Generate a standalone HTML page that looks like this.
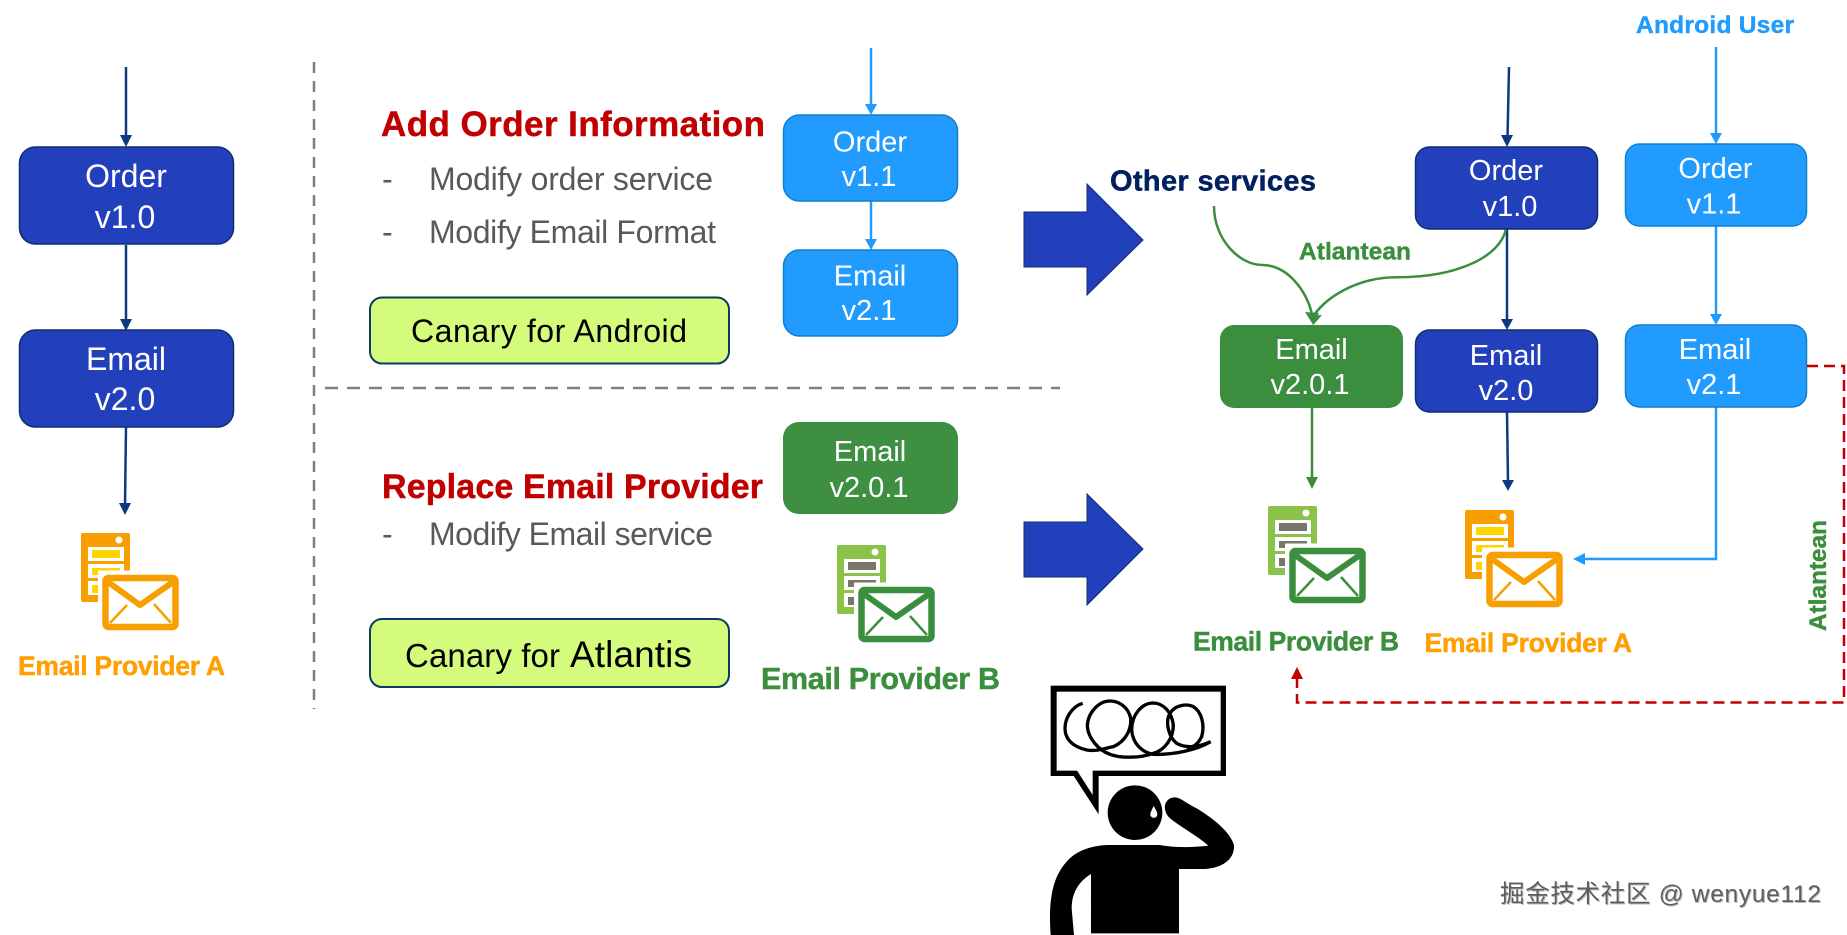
<!DOCTYPE html>
<html><head><meta charset="utf-8"><style>
html,body{margin:0;padding:0;background:#fff}
svg{display:block}
text{font-family:"Liberation Sans","Noto Sans CJK SC",sans-serif}
.w{fill:#fff;font-size:29px;text-anchor:middle}
.b{font-weight:bold;stroke-width:.45px}
.g{fill:#595959;font-size:32px}
</style></head><body>
<svg width="1847" height="935" viewBox="0 0 1847 935" xmlns="http://www.w3.org/2000/svg">
<rect width="1847" height="935" fill="#fff"/>
<defs>
<g id="sa">
<rect x="0" y="0" width="49" height="69" rx="2" fill="#F79F00"/>
<circle cx="38" cy="7" r="3.5" fill="#fff"/>
<rect x="7" y="14" width="36" height="14" fill="#fff"/><rect x="11" y="17" width="28" height="8" fill="#FFD400"/>
<rect x="7" y="31" width="36" height="14" fill="#fff"/><rect x="11" y="35" width="28" height="7" fill="#FFD400"/>
<rect x="7" y="48" width="36" height="14" fill="#fff"/><rect x="11" y="52" width="9" height="8" fill="#FFD400"/>
<rect x="17" y="37.5" width="40" height="40" fill="#fff"/>
<rect x="24.5" y="45" width="70" height="49" rx="3" fill="#fff" stroke="#F79F00" stroke-width="6.5"/>
<polyline points="27,49 59,72 92,49" fill="none" stroke="#F79F00" stroke-width="6" stroke-linejoin="round"/>
<path d="M29,90 L46,72 M90,90 L73,71" stroke="#F79F00" stroke-width="2.5" fill="none"/>
</g>
<g id="sb">
<rect x="0" y="0" width="49" height="69" rx="2" fill="#8BC34A"/>
<circle cx="38" cy="7" r="3.5" fill="#fff"/>
<rect x="7" y="14" width="36" height="14" fill="#fff"/><rect x="11" y="17" width="28" height="8" fill="#77776A"/>
<rect x="7" y="31" width="36" height="14" fill="#fff"/><rect x="11" y="35" width="28" height="7" fill="#77776A"/>
<rect x="7" y="48" width="36" height="14" fill="#fff"/><rect x="11" y="52" width="9" height="8" fill="#77776A"/>
<rect x="17" y="37.5" width="40" height="40" fill="#fff"/>
<rect x="24.5" y="45" width="70" height="49" rx="3" fill="#fff" stroke="#3B8E3E" stroke-width="6.5"/>
<polyline points="27,49 59,72 92,49" fill="none" stroke="#3B8E3E" stroke-width="6" stroke-linejoin="round"/>
<path d="M29,90 L46,72 M90,90 L73,71" stroke="#3B8E3E" stroke-width="2.5" fill="none"/>
</g>
</defs>

<!-- dashed dividers -->
<line x1="314" y1="62" x2="314" y2="709" stroke="#7f7f7f" stroke-width="2.5" stroke-dasharray="11 8"/>
<line x1="325" y1="388" x2="1060" y2="388" stroke="#7f7f7f" stroke-width="2.5" stroke-dasharray="13 9"/>

<!-- left column -->
<g stroke="#0B3A7E" stroke-width="2.5" fill="none">
<line x1="126" y1="67" x2="126" y2="138"/><line x1="126" y1="245" x2="126" y2="322"/><line x1="126" y1="427" x2="125" y2="505"/>
</g>
<g fill="#0B3A7E"><polygon points="120,135 132,135 126,147"/><polygon points="120,319 132,319 126,331"/><polygon points="119,503 131,503 125,515"/></g>
<rect x="19.5" y="147" width="214" height="97" rx="16" fill="#2340BC" stroke="#0E2F6E" stroke-width="1.5"/>
<rect x="19.5" y="330" width="214" height="97" rx="16" fill="#2340BC" stroke="#0E2F6E" stroke-width="1.5"/>
<text class="w" style="font-size:32px" x="126" y="187">Order</text>
<text class="w" style="font-size:32px" x="125" y="228">v1.0</text>
<text class="w" style="font-size:32px" x="126" y="370">Email</text>
<text class="w" style="font-size:32px" x="125" y="410">v2.0</text>
<use href="#sa" x="81" y="533"/>
<text class="b" x="18" y="675" font-size="26.5" fill="#FF9F00" stroke="#FF9F00" textLength="207">Email Provider A</text>

<!-- middle text -->
<text class="b" x="381" y="136" font-size="35" fill="#C00000" stroke="#C00000" textLength="384">Add Order Information</text>
<text class="g" x="382" y="190">-</text>
<text class="g" x="429" y="190" textLength="284">Modify order service</text>
<text class="g" x="382" y="243">-</text>
<text class="g" x="429" y="243" textLength="287">Modify Email Format</text>
<rect x="370" y="297.5" width="359" height="66" rx="12" fill="#D5FB7C" stroke="#0D3B5E" stroke-width="2"/>
<text x="411" y="342" font-size="32" fill="#000" textLength="276">Canary for Android</text>

<text class="b" x="382" y="498" font-size="34" fill="#C00000" stroke="#C00000" textLength="381">Replace Email Provider</text>
<text class="g" x="382" y="545">-</text>
<text class="g" x="429" y="545" textLength="284">Modify Email service</text>
<rect x="370" y="619" width="359" height="68" rx="12" fill="#D5FB7C" stroke="#0D3B5E" stroke-width="2"/>
<text x="405" y="667" font-size="33" fill="#000" textLength="155">Canary for</text>
<text x="570" y="667" font-size="37" fill="#000" textLength="122">Atlantis</text>

<!-- middle boxes -->
<g stroke="#219CFE" stroke-width="2.5"><line x1="871" y1="48" x2="871" y2="106"/><line x1="871" y1="201" x2="871" y2="241"/></g>
<g fill="#219CFE"><polygon points="865,104 877,104 871,115"/><polygon points="865,239 877,239 871,250"/></g>
<rect x="783.5" y="115" width="174" height="86" rx="16" fill="#219CFE" stroke="#0F7FD0" stroke-width="1.5"/>
<rect x="783.5" y="250" width="174" height="86" rx="16" fill="#219CFE" stroke="#0F7FD0" stroke-width="1.5"/>
<text class="w" x="870" y="151.5">Order</text><text class="w" x="869" y="186">v1.1</text>
<text class="w" x="870" y="285.5">Email</text><text class="w" x="869" y="320">v2.1</text>
<rect x="783" y="422" width="175" height="92" rx="16" fill="#3F8F43"/>
<text class="w" x="870" y="461">Email</text><text class="w" x="869" y="497">v2.0.1</text>
<use href="#sb" x="837" y="545"/>
<text class="b" x="761" y="689" font-size="30.5" fill="#3B8E3E" stroke="#3B8E3E" textLength="239">Email Provider B</text>

<!-- big arrows -->
<polygon points="1024,212 1087,212 1087,184 1143,240 1087,295 1087,267 1024,267" fill="#2340BC" stroke="#0E2F6E" stroke-width="1"/>
<polygon points="1024,522 1087,522 1087,494 1143,549 1087,605 1087,577 1024,577" fill="#2340BC" stroke="#0E2F6E" stroke-width="1"/>

<!-- right part -->
<text class="b" x="1110" y="190.5" font-size="29" fill="#002060" stroke="#002060" textLength="206">Other services</text>
<text class="b" x="1636" y="33" font-size="24.5" fill="#219CFE" stroke="#219CFE" textLength="158">Android User</text>
<text class="b" x="1299" y="259.5" font-size="24.5" fill="#3B8E3E" stroke="#3B8E3E" textLength="112">Atlantean</text>

<g stroke="#0B3A7E" stroke-width="2.5" fill="none">
<line x1="1509" y1="67" x2="1507.5" y2="138"/><line x1="1507" y1="229" x2="1507" y2="322"/><line x1="1507" y1="412" x2="1508" y2="482"/>
</g>
<g fill="#0B3A7E"><polygon points="1501,135 1513,135 1507,147"/><polygon points="1501,319 1513,319 1507,330"/><polygon points="1502,480 1514,480 1508,491"/></g>

<g stroke="#3B8E3E" stroke-width="2.5" fill="none">
<path d="M1214,206 C1214,240 1240,265 1262,265 C1287,265 1307,290 1312.7,317"/>
<path d="M1506,229 C1500,257 1457,277.3 1397,277.3 C1357,277.3 1327,297 1314,315"/>
<line x1="1312" y1="408" x2="1312" y2="480"/>
</g>
<g fill="#3B8E3E"><polygon points="1305,312 1319,313 1313.3,325"/><polygon points="1308,316 1322,315 1313.3,325"/><polygon points="1306,477 1318,477 1312,489"/></g>

<g stroke="#219CFE" stroke-width="2.5" fill="none">
<line x1="1716" y1="47" x2="1716" y2="135"/><line x1="1716" y1="226" x2="1716" y2="316"/>
<polyline points="1716,407 1716,559 1582,559"/>
</g>
<g fill="#219CFE"><polygon points="1710,133 1722,133 1716,144"/><polygon points="1710,314 1722,314 1716,325"/><polygon points="1585,553 1585,565 1573,559"/></g>

<rect x="1415.5" y="147" width="182" height="82" rx="14" fill="#2340BC" stroke="#0E2F6E" stroke-width="1.5"/>
<rect x="1415.5" y="330" width="182" height="82" rx="14" fill="#2340BC" stroke="#0E2F6E" stroke-width="1.5"/>
<rect x="1625.5" y="144" width="181" height="82" rx="14" fill="#219CFE" stroke="#0F7FD0" stroke-width="1.5"/>
<rect x="1625.5" y="325" width="181" height="82" rx="14" fill="#219CFE" stroke="#0F7FD0" stroke-width="1.5"/>
<rect x="1220" y="325" width="183" height="83" rx="14" fill="#3B8E3E"/>
<text class="w" x="1506" y="180">Order</text><text class="w" x="1510" y="216">v1.0</text>
<text class="w" x="1506" y="365">Email</text><text class="w" x="1506" y="400">v2.0</text>
<text class="w" x="1715.5" y="178">Order</text><text class="w" x="1714" y="213.5">v1.1</text>
<text class="w" x="1715" y="359">Email</text><text class="w" x="1714" y="394">v2.1</text>
<text class="w" x="1311.5" y="359">Email</text><text class="w" x="1310" y="394">v2.0.1</text>

<use href="#sb" x="1268" y="506"/>
<use href="#sa" x="1465" y="510"/>
<text class="b" x="1193" y="650.5" font-size="26.5" fill="#3B8E3E" stroke="#3B8E3E" textLength="206">Email Provider B</text>
<text class="b" x="1424.5" y="652" font-size="26.5" fill="#FF9F00" stroke="#FF9F00" textLength="207.5">Email Provider A</text>

<!-- red dashed -->
<polyline points="1807,366 1844,366 1844,702.5 1297,702.5 1297,678" fill="none" stroke="#C00000" stroke-width="2.5" stroke-dasharray="11 6"/>
<polygon points="1291,679 1303,679 1297,667" fill="#C00000"/>
<text class="b" transform="translate(1826,631) rotate(-90)" font-size="24.5" fill="#3B8E3E" stroke="#3B8E3E" textLength="111">Atlantean</text>

<!-- person -->
<g transform="translate(1030,675) scale(0.33333)">
<rect x="62" y="32" width="526" height="271" fill="#000"/>
<rect x="80" y="50" width="492" height="237" fill="#fff"/>
<polygon points="130,301 206,418 206,301" fill="#000"/>
<polygon points="140,285 188,360 188,285" fill="#fff"/>
<path d="M158,85 C125,95 105,130 105,160 C105,190 125,215 170,225 C200,230 225,220 250,215 C285,200 305,165 302,130 C295,95 265,78 240,78 C205,78 172,115 172,155 C175,190 205,225 240,238 C270,250 330,250 370,235 C405,225 430,190 430,150 C425,110 400,85 370,84 C335,84 305,120 305,165 C308,205 335,232 370,238 C430,240 500,225 542,200 C510,215 470,222 440,205 C415,185 405,140 420,115 C435,90 470,85 490,95 C515,110 525,150 515,185 C505,205 495,215 470,220" fill="none" stroke="#000" stroke-width="10"/>
<circle cx="315" cy="413" r="82" fill="#000"/>
<path d="M371,393 C365,405 360,415 361,420 C363,431 380,431 382,420 C383,413 377,403 371,393 Z" fill="#fff"/>
<path d="M62,780 C55,680 65,610 110,560 C140,525 190,510 240,510 L390,510 C430,518 490,518 535,512 C500,480 440,450 415,425 C395,400 405,367 435,367 C450,367 470,385 500,400 C550,430 600,470 612,510 C615,550 580,580 520,582 L447,582 L447,775 L183,775 L183,597 C145,620 125,655 125,700 L132,780 Z" fill="#000"/>
</g>

<!-- watermark -->
<text x="1501" y="903" font-size="24.5" fill="#bbb" textLength="321">掘金技术社区 @ wenyue112</text>
<text x="1500" y="902" font-size="24.5" fill="#5e5e5e" textLength="321">掘金技术社区 @ wenyue112</text>
</svg>
</body></html>
